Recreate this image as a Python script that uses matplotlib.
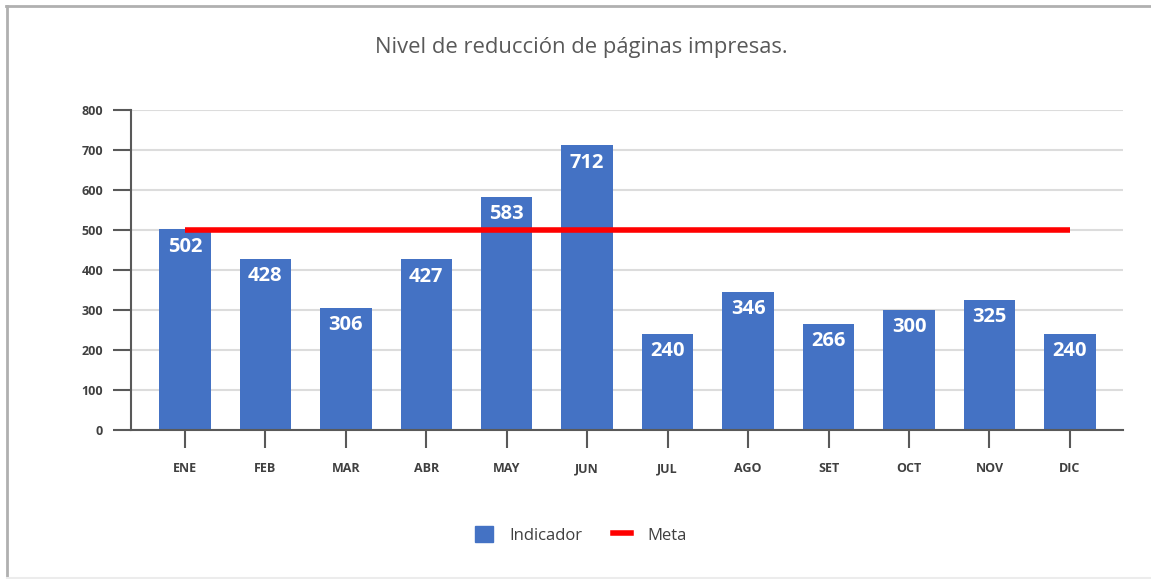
import matplotlib
matplotlib.use("Agg")
import matplotlib.pyplot as plt
from matplotlib.patches import Patch
from matplotlib.lines import Line2D

months = ["ENE", "FEB", "MAR", "ABR", "MAY", "JUN", "JUL", "AGO", "SET", "OCT", "NOV", "DIC"]
indicador = [502, 428, 306, 427, 583, 712, 240, 346, 266, 300, 325, 240]
meta = [500] * 12
title = "Nivel de reducción de páginas impresas."
yticks = [0, 100, 200, 300, 400, 500, 600, 700, 800]

plt.rcParams['font.family'] = ['Open Sans', 'DejaVu Sans']

W, H = 1151, 579
fig = plt.figure(figsize=(W / 100, H / 100), dpi=100)
ax = fig.add_axes([131 / W, 1 - 430 / H, (1123 - 131) / W, (430 - 110) / H])

x = list(range(len(months)))
ax.bar(x, indicador, width=0.64, color="#4472C4", zorder=2)
ax.plot(x, meta, color="#FF0000", linewidth=4, zorder=3, solid_capstyle="butt")

for xi, v in zip(x, indicador):
    ax.annotate(str(v), (xi, v), xytext=(0, -12.5), textcoords="offset points",
                ha="center", va="center", color="white", fontsize=14.5,
                fontweight="bold", zorder=4)

ax.set_xlim(-0.67, 11.66)
ax.set_ylim(0, 800)
ax.set_yticks(yticks)
ax.set_xticks(x)
ax.set_xticklabels(months)
ax.yaxis.grid(True, color="#dcdcdc", linewidth=1.5, zorder=0)
ax.set_axisbelow(True)
for s in ["top", "right"]:
    ax.spines[s].set_visible(False)
for s in ["left", "bottom"]:
    ax.spines[s].set_color("#595959")
    ax.spines[s].set_linewidth(1.5)
ax.tick_params(axis="y", length=13, width=1.5, color="#595959", labelsize=9,
               labelcolor="#404040", pad=7)
ax.tick_params(axis="x", length=13, width=1.5, color="#595959", labelsize=9,
               labelcolor="#404040", pad=10)
for lbl in ax.get_yticklabels() + ax.get_xticklabels():
    lbl.set_fontweight("bold")

fig.text(581 / W, 1 - 48 / H, title, ha="center", va="center",
         fontsize=15.8, color="#595959")

handles = [Patch(facecolor="#4472C4", edgecolor="#4472C4", label="Indicador"),
           Line2D([0], [0], color="#FF0000", linewidth=4, label="Meta")]
fig.legend(handles=handles, loc="center", bbox_to_anchor=(581 / W, 1 - 535 / H),
           ncol=2, frameon=False, fontsize=12, labelcolor="#404040",
           handlelength=1.1, handleheight=1.1, columnspacing=1.8, handletextpad=1.0)

# frame: left and top gray lines, faint bottom line
fig.add_artist(Line2D([6.5 / W, 6.5 / W], [0, 1 - 5.5 / H], transform=fig.transFigure,
                      color="#b0b0b0", linewidth=2))
fig.add_artist(Line2D([5.5 / W, 1], [1 - 5.5 / H, 1 - 5.5 / H], transform=fig.transFigure,
                      color="#b0b0b0", linewidth=2))
fig.add_artist(Line2D([6.5 / W, 1], [1.0 / H, 1.0 / H], transform=fig.transFigure,
                      color="#ececec", linewidth=1.5))

fig.savefig("out.png", dpi=100)
